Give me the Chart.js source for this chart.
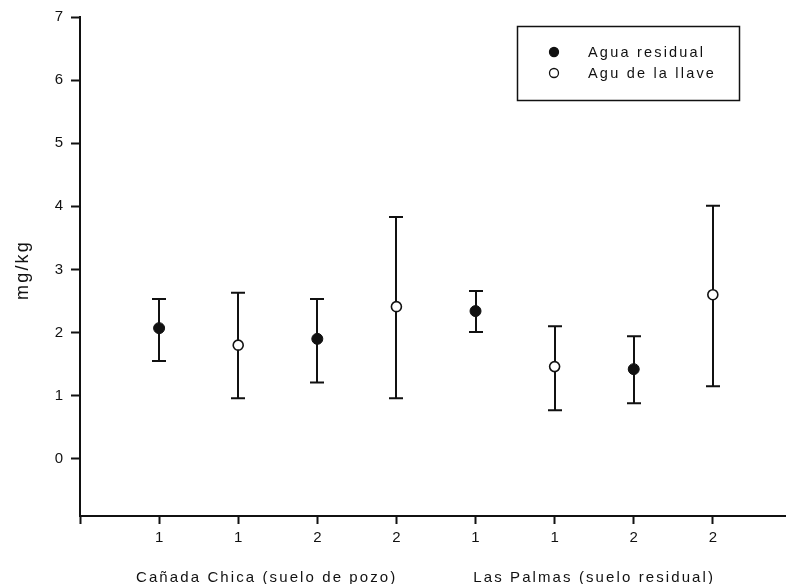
<!DOCTYPE html>
<html lang="es">
<head>
<meta charset="UTF-8">
<title>mg/kg</title>
<script src="https://cdn.jsdelivr.net/npm/chart.js@4.4.1/dist/chart.umd.min.js"></script>
<style>
  html, body { margin: 0; padding: 0; background: #fff; }
  .wrap { position: relative; width: 786px; height: 584px; }
</style>
</head>
<body>
<div class="wrap"><canvas id="chart"></canvas></div>
<script>
// samples along the x axis and the label printed under each one
const positions = [1, 2, 3, 4, 5, 6, 7, 8];
const tickLabels = ['1', '1', '2', '2', '1', '1', '2', '2'];
const groups = ['Cañada Chica (suelo de pozo)', 'Las Palmas (suelo residual)'];
const seriesNames = ['Agua residual', 'Agu de la llave'];
const yTicks = [0, 1, 2, 3, 4, 5, 6, 7];

// Agua residual (filled markers)
const residX = [1, 3, 5, 7];
const residMean = [2.07, 1.90, 2.34, 1.42];
const residLow = [1.55, 1.21, 2.01, 0.88];
const residHigh = [2.53, 2.53, 2.66, 1.94];

// Agua de la llave (open markers)
const tapX = [2, 4, 6, 8];
const tapMean = [1.80, 2.41, 1.46, 2.60];
const tapLow = [0.96, 0.96, 0.77, 1.15];
const tapHigh = [2.63, 3.83, 2.10, 4.01];

const FONT = '"Liberation Sans", Arial, sans-serif';
const INK = '#111';

function points(xs, mean, lo, hi) {
  return xs.map((x, i) => ({ x: x, y: mean[i], lo: lo[i], hi: hi[i] }));
}

// vertical error bars with caps, drawn under the markers
const errorBars = {
  id: 'errorBars',
  beforeDatasetsDraw(chart) {
    const { ctx, scales: { x, y } } = chart;
    ctx.save();
    ctx.strokeStyle = INK;
    ctx.lineWidth = 2;
    chart.data.datasets.forEach(ds => {
      ds.data.forEach(p => {
        const px = Math.round(x.getPixelForValue(p.x));
        const top = y.getPixelForValue(p.hi);
        const bot = y.getPixelForValue(p.lo);
        ctx.beginPath();
        ctx.moveTo(px, top); ctx.lineTo(px, bot);
        ctx.moveTo(px - 7, top); ctx.lineTo(px + 7, top);
        ctx.moveTo(px - 7, bot); ctx.lineTo(px + 7, bot);
        ctx.stroke();
      });
    });
    ctx.restore();
  }
};

// group captions, y title and the boxed legend
const annotations = {
  id: 'annotations',
  afterDraw(chart) {
    const { ctx, scales: { x } } = chart;
    ctx.save();
    ctx.fillStyle = INK;
    ctx.textAlign = 'center';
    ctx.textBaseline = 'alphabetic';
    ctx.font = '15px ' + FONT;
    ctx.letterSpacing = '2.1px';
    ctx.fillText(groups[0], x.getPixelForValue(2.36), 582);
    ctx.fillText(groups[1], x.getPixelForValue(6.5), 582);

    ctx.save();
    ctx.translate(28, 270);
    ctx.rotate(-Math.PI / 2);
    ctx.font = '18px ' + FONT;
    ctx.letterSpacing = '2.2px';
    ctx.fillText('mg/kg', 0, 0);
    ctx.restore();

    // legend box
    ctx.strokeStyle = INK;
    ctx.lineWidth = 1.5;
    ctx.strokeRect(517.5, 26.5, 222, 74);
    const rows = [
      { name: seriesNames[0], fill: INK, y: 52 },
      { name: seriesNames[1], fill: '#fff', y: 73 }
    ];
    ctx.textAlign = 'left';
    ctx.font = '14.5px ' + FONT;
    ctx.letterSpacing = '2.2px';
    rows.forEach(r => {
      ctx.beginPath();
      ctx.arc(554, r.y, 4.5, 0, Math.PI * 2);
      ctx.fillStyle = r.fill;
      ctx.fill();
      ctx.lineWidth = 1.3;
      ctx.stroke();
      ctx.fillStyle = INK;
      ctx.fillText(r.name, 588, r.y + 5);
    });
    ctx.restore();
  }
};

new Chart(document.getElementById('chart'), {
  type: 'scatter',
  data: {
    datasets: [
      {
        label: seriesNames[0],
        data: points(residX, residMean, residLow, residHigh),
        pointRadius: 5.5,
        pointBackgroundColor: INK,
        pointBorderColor: INK,
        pointBorderWidth: 1
      },
      {
        label: seriesNames[1],
        data: points(tapX, tapMean, tapLow, tapHigh),
        pointRadius: 5,
        pointBackgroundColor: '#fff',
        pointBorderColor: INK,
        pointBorderWidth: 1.6
      }
    ]
  },
  options: {
    responsive: true,
    maintainAspectRatio: false,
    animation: false,
    devicePixelRatio: 1,
    layout: { autoPadding: false, padding: { top: 15, right: 0, bottom: 0, left: 0 } },
    plugins: { legend: { display: false }, tooltip: { enabled: false } },
    scales: {
      x: {
        type: 'linear',
        min: 0,
        max: 8.925,
        afterBuildTicks: s => { s.ticks = [0].concat(positions).map(v => ({ value: v })); },
        afterFit: s => { s.height = 68; s.paddingLeft = 0; s.paddingRight = 0; },
        ticks: {
          autoSkip: false,
          maxRotation: 0,
          padding: 5,
          color: INK,
          font: { family: FONT, size: 15 },
          callback: v => tickLabels[positions.indexOf(v)] || ''
        },
        grid: { drawOnChartArea: false, drawTicks: true, tickLength: 8, tickWidth: 2, tickColor: INK },
        border: { color: INK, width: 2 }
      },
      y: {
        min: -0.907,
        max: 7,
        afterBuildTicks: s => { s.ticks = yTicks.map(v => ({ value: v })); },
        afterFit: s => { s.width = 80; },
        ticks: {
          padding: 8,
          color: INK,
          font: { family: FONT, size: 15 }
        },
        grid: { drawOnChartArea: false, drawTicks: true, tickLength: 9, tickWidth: 2, tickColor: INK },
        border: { color: INK, width: 2 }
      }
    }
  },
  plugins: [errorBars, annotations]
});
</script>
</body>
</html>
